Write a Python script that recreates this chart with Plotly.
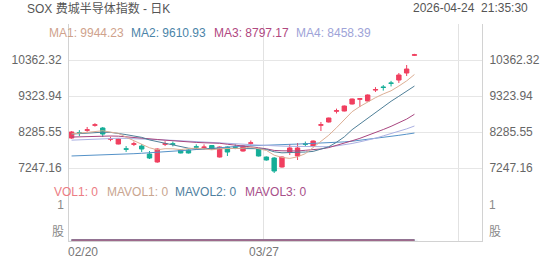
import plotly.graph_objects as go

# ---------------- data ----------------
dates = ["02/20", "02/23", "02/24", "02/25", "02/26", "02/27", "03/02", "03/03", "03/04", "03/05",
         "03/06", "03/09", "03/10", "03/11", "03/12", "03/13", "03/16", "03/17", "03/18", "03/19",
         "03/20", "03/23", "03/24", "03/25", "03/26", "03/27", "03/30", "03/31", "04/01", "04/02",
         "04/06", "04/07", "04/08", "04/09", "04/10", "04/13", "04/14", "04/15", "04/16", "04/17",
         "04/20", "04/21", "04/22", "04/23", "04/24"]

opens = [8112, 8265, 8335, 8480, 8401, 8078, 7939, 7800, 7930, 7881,
         7651, 7420, 7930, 7945, 7766, 7766, 7860, 7840, 7895, 7564,
         7852, 7858, 7737, 7960, 7795, 7564, 7535, 7276, 7708, 7593,
         7945, 7881, 8480, 8574, 8885, 8891, 9093, 9230, 9180, 9495,
         9585, 9700, 9785, 9987, 10500]
highs = [8310, 8340, 8430, 8540, 8430, 8150, 8095, 7880, 8010, 7939,
         7737, 7810, 8020, 8010, 7780, 7780, 7930, 7930, 7910, 7870,
         7870, 7930, 7900, 8040, 7810, 7580, 7560, 7580, 7939, 7968,
         8010, 8040, 8574, 8700, 8960, 9050, 9250, 9265, 9370, 9580,
         9640, 9760, 9987, 10218, 10540]
lows = [8090, 8170, 8290, 8440, 8141, 8020, 7930, 7710, 7880, 7708,
        7506, 7400, 7880, 7870, 7670, 7665, 7790, 7780, 7780, 7550,
        7593, 7790, 7720, 7900, 7580, 7460, 7103, 7260, 7622, 7478,
        7870, 7870, 8314, 8560, 8820, 8880, 9080, 9006, 9170, 9440,
        9480, 9600, 9700, 9900, 10480]
closes = [8286, 8250, 8348, 8492, 8228, 8090, 8084, 7790, 7945, 7795,
          7535, 7795, 7948, 7933, 7680, 7680, 7850, 7850, 7795, 7852,
          7708, 7846, 7881, 7972, 7593, 7478, 7160, 7564, 7824, 7824,
          7933, 8026, 8495, 8689, 8900, 9035, 9237, 9245, 9353, 9510,
          9570, 9690, 9930, 10102, 10512]

ma1 = [8230, 8255, 8285, 8310, 8321, 8282, 8248, 8137, 8027, 7941,
       7830, 7772, 7804, 7801, 7778, 7807, 7818, 7799, 7771, 7805,
       7811, 7810, 7816, 7852, 7800, 7754, 7617, 7553, 7524, 7570,
       7661, 7834, 8020, 8193, 8409, 8629, 8871, 9021, 9154, 9276,
       9383, 9474, 9611, 9760, 9944.23]
ma2 = [8225, 8240, 8255, 8270, 8280, 8275, 8250, 8210, 8170, 8131,
       8056, 8010, 7970, 7914, 7860, 7819, 7795, 7801, 7786, 7792,
       7809, 7814, 7808, 7811, 7803, 7783, 7714, 7685, 7688, 7685,
       7708, 7726, 7787, 7859, 7989, 8145, 8353, 8521, 8674, 8842,
       9006, 9172, 9316, 9457, 9610.93]
ma3 = [8140, 8150, 8160, 8165, 8170, 8170, 8165, 8150, 8130, 8110,
       8090, 8070, 8050, 8030, 8010, 7995, 7985, 7975, 7968, 7961,
       7932, 7912, 7889, 7863, 7831, 7801, 7754, 7743, 7737, 7738,
       7758, 7770, 7797, 7835, 7896, 7964, 8033, 8103, 8181, 8264,
       8357, 8449, 8551, 8658, 8797.17]
ma4 = [8050, 8060, 8075, 8090, 8100, 8105, 8105, 8100, 8095, 8085,
       8075, 8065, 8055, 8045, 8035, 8020, 8010, 8000, 7990, 7980,
       7965, 7950, 7935, 7920, 7905, 7895, 7885, 7878, 7872, 7869,
       7857, 7850, 7855, 7861, 7884, 7915, 7954, 8002, 8049, 8106,
       8174, 8237, 8303, 8376, 8458.39]
ma5 = [7594, 7600, 7608, 7615, 7622, 7630, 7640, 7650, 7660, 7672,
       7684, 7696, 7712, 7728, 7745, 7762, 7780, 7800, 7820, 7838,
       7852, 7866, 7878, 7890, 7900, 7908, 7915, 7922, 7930, 7937,
       7945, 7953, 7962, 7972, 7985, 8000, 8020, 8045, 8072, 8100,
       8130, 8160, 8190, 8222, 8256]

vol = [0, 0, 0, 0, 0, 0, 0, 0, 0, 0, 0, 0, 0, 0, 0, 0, 0, 0, 0, 0, 0, 0, 0,
       0, 0, 0, 0, 0, 0, 0, 0, 0, 0, 0, 0, 0, 0, 0, 0, 0, 0, 0, 0, 0, 0]

price_ticks = [10362.32, 9323.94, 8285.55, 7247.16]
vol_ticks = [1, 0]
vol_tick_text = ["1", "股"]
x_label_dates = ["02/20", "03/27"]
grid_every = 25  # vertical grid every 25 bars

title_text = "SOX 费城半导体指数 - 日K"
time_text = "2026-04-24  21:35:30"

# ---------------- style ----------------
W, H = 552, 265
L, R, T, B = 64, 64, 24, 24
PW, PH = W - L - R, H - T - B
FONT = "Liberation Sans, Arial, Noto Sans CJK SC, sans-serif"
UP, DN = "#f03f5f", "#15ae98"
C_MA = ["#dcae94", "#4f7f98", "#a8457f", "#aab0e2", "#5592c8"]
C_MA_TXT = ["#cfa28c", "#4b84a8", "#b0487f", "#9ea3d8"]
C_VOL_TXT = ["#ec7c83", "#c9a58f", "#4f7fa0", "#a8508a"]
GRID = "#e6e6e6"
AXL = "#d2d2d2"
X_OFF = 0.33


def pyp(p):  # pixel y -> paper
    return (H - B - p) / PH


def pxp(p):  # pixel x -> paper
    return (p - L) / PW


xi = list(range(len(dates)))

# price axis calibration (tick spacing 36 px)
step = price_ticks[0] - price_ticks[1]
y_top = price_ticks[0] + (60 - T) / 36 * step
y_bot = price_ticks[0] - (H - B - 60) / 36 * step
vol_dom_top = (H - B - 205) / PH

fig = go.Figure()
fig.add_trace(go.Candlestick(
    x=xi, open=opens, high=highs, low=lows, close=closes,
    increasing=dict(line=dict(color=UP, width=1), fillcolor=UP),
    decreasing=dict(line=dict(color=DN, width=1), fillcolor=DN),
    whiskerwidth=0, showlegend=False, hoverinfo="skip"))
for arr, col in zip([ma5, ma4, ma3, ma2, ma1], [C_MA[4], C_MA[3], C_MA[2], C_MA[1], C_MA[0]]):
    fig.add_trace(go.Scatter(x=xi, y=arr, mode="lines", line=dict(color=col, width=1),
                             showlegend=False, hoverinfo="skip"))

fig.add_trace(go.Bar(x=xi, y=vol, yaxis="y2", marker_color=UP, showlegend=False, hoverinfo="skip"))
for col in ["#c9a58f", "#4f7fa0", "#9e6a8c"]:
    fig.add_trace(go.Scatter(x=xi, y=vol, yaxis="y2", mode="lines", line=dict(color=col, width=2),
                             showlegend=False, hoverinfo="skip"))

grid_pos = [i - X_OFF for i in range(0, 53, grid_every)]

tickfont = dict(family=FONT, size=12, color="#666")
vfont = dict(family=FONT, size=12, color="#8a8a8a")

fig.update_layout(
    width=W, height=H, margin=dict(l=L, r=R, t=T, b=B),
    paper_bgcolor="white", plot_bgcolor="rgba(0,0,0,0)",
    boxgap=0.25, boxgroupgap=0.25,
    xaxis=dict(range=[-X_OFF, 53 - X_OFF], tickvals=grid_pos, showticklabels=False,
               showgrid=True, gridcolor="#e2e2e2", showline=True, linecolor=AXL,
               zeroline=False, rangeslider=dict(visible=False), ticks="", fixedrange=True),
    yaxis=dict(domain=[0, 1], range=[y_bot, y_top], tickvals=price_ticks,
               ticktext=[f"{v:.2f}" for v in price_ticks], showgrid=True, gridcolor=GRID,
               showline=True, linecolor=AXL, zeroline=False, ticks="", tickfont=tickfont,
               ticklabelstandoff=4, fixedrange=True),
    yaxis3=dict(overlaying="y", side="right", range=[y_bot, y_top], tickvals=price_ticks,
                ticktext=[f"{v:.2f}" for v in price_ticks], showgrid=False,
                showline=True, linecolor=AXL, zeroline=False, ticks="", tickfont=tickfont,
                ticklabelstandoff=4, fixedrange=True),
    yaxis2=dict(domain=[0, vol_dom_top], range=[-0.02, 1], tickvals=vol_ticks[:1],
                ticktext=vol_tick_text[:1], showgrid=True, gridcolor=GRID, showline=False,
                zeroline=False, ticks="", tickfont=vfont, ticklabelstandoff=4, fixedrange=True),
    yaxis5=dict(overlaying="y2", range=[-0.02, 1], tickvals=vol_ticks[1:],
                ticktext=vol_tick_text[1:], showgrid=False, showline=False, zeroline=False,
                ticks="", tickfont=vfont, ticklabelposition="outside top",
                ticklabelstandoff=4, fixedrange=True),
    yaxis4=dict(overlaying="y2", side="right", range=[-0.02, 1], tickvals=vol_ticks[:1],
                ticktext=vol_tick_text[:1], showgrid=False, showline=False, zeroline=False,
                ticks="", tickfont=vfont, ticklabelstandoff=6, fixedrange=True),
    yaxis6=dict(overlaying="y2", side="right", range=[-0.02, 1], tickvals=vol_ticks[1:],
                ticktext=vol_tick_text[1:], showgrid=False, showline=False, zeroline=False,
                ticks="", tickfont=vfont, ticklabelposition="outside top",
                ticklabelstandoff=6, fixedrange=True),
)
# invisible traces to activate overlay axes
for ax in ["y3", "y5", "y4", "y6"]:
    fig.add_trace(go.Scatter(x=[None], y=[None], yaxis=ax, showlegend=False, hoverinfo="skip"))

ann = []
ann.append(dict(text=title_text, x=pxp(19), y=pyp(8), xref="paper", yref="paper",
                xanchor="left", yanchor="middle", showarrow=False,
                font=dict(family=FONT, size=12, color="#555")))
ann.append(dict(text=time_text.replace("  ", "&nbsp;&nbsp;"), x=pxp(537), y=pyp(8), xref="paper", yref="paper",
                xanchor="right", yanchor="middle", showarrow=False,
                font=dict(family=FONT, size=12, color="#555")))
ma_vals = [ma1[-1], ma2[-1], ma3[-1], ma4[-1]]
ma_x = [41, 126, 211, 295]
for k, (v, xpix) in enumerate(zip(ma_vals, ma_x)):
    ann.append(dict(text=f"MA{k + 1}: {v:.2f}", x=pxp(xpix), y=pyp(33), xref="paper", yref="paper",
                    xanchor="left", yanchor="middle", showarrow=False,
                    font=dict(family=FONT, size=12, color=C_MA_TXT[k])))
vol_names = ["VOL1", "MAVOL1", "MAVOL2", "MAVOL3"]
vol_x = [47, 101, 171, 243]
for k, (nm, xpix) in enumerate(zip(vol_names, vol_x)):
    ann.append(dict(text=f"{nm}: {vol[-1]}", x=pxp(xpix), y=pyp(192), xref="paper", yref="paper",
                    xanchor="left", yanchor="middle", showarrow=False,
                    font=dict(family=FONT, size=12, color=C_VOL_TXT[k])))
for k, d in enumerate(x_label_dates):
    ann.append(dict(text=d, x=dates.index(d) - X_OFF, y=pyp(252), xref="x", yref="paper",
                    xanchor="left" if k == 0 else "center", yanchor="middle", showarrow=False,
                    xshift=-3 if k == 0 else 0,
                    font=dict(family=FONT, size=12, color="#777")))
fig.update_layout(annotations=ann)

fig.write_html("out.html")
